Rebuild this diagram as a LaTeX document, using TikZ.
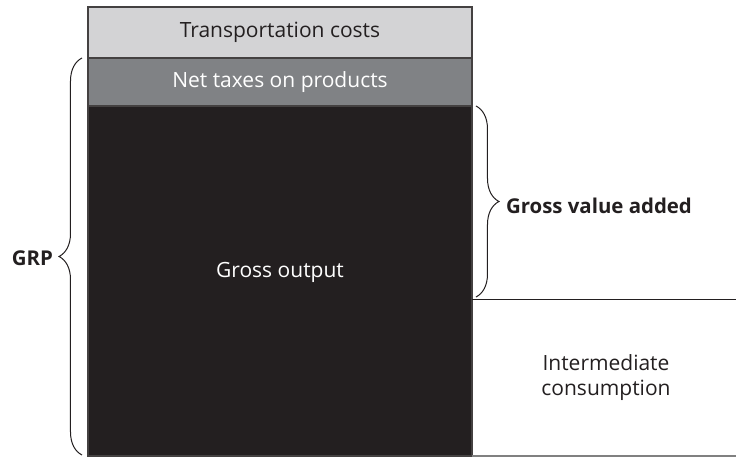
\documentclass[tikz,border=0pt]{standalone}
\usepackage{fontspec}
\setmainfont{Open Sans}
\usetikzlibrary{positioning,decorations.pathreplacing}
\definecolor{lightbar}{HTML}{D3D3D5}
\definecolor{midbar}{HTML}{808285}
\definecolor{darkbar}{HTML}{231F20}
\tikzset{
  bar/.style={draw=darkbar!85, line width=0.6pt, minimum width=192pt, inner sep=0pt, outer sep=0pt, anchor=north},
  bracket/.style={decorate, decoration={brace, amplitude=11.5pt}, line width=0.5pt, darkbar},
  sidelabel/.style={font=\fontsize{10.2}{12.5}\selectfont\bfseries, text=darkbar}
}
\begin{document}
\begin{tikzpicture}[x=0.5pt, y=-0.5pt, font=\fontsize{10.5}{12.5}\selectfont]
  \useasboundingbox (0,0) rectangle (736,460);

  % stacked bars
  \node[bar, fill=lightbar, text=darkbar, minimum height=25.5pt] (trans) at (280,7) {Transportation costs};
  \node[bar, fill=midbar, text=white, minimum height=24pt, below=0pt of trans] (taxes) {Net taxes on products};
  \node[bar, fill=darkbar, minimum height=175pt, below=0pt of taxes] (output) {};
  \node[text=white] (outlabel) at (280,272) {Gross output};

  % right hand side
  \coordinate (cut) at (736,300);
  \coordinate (floor) at (736,457);
  \draw[line width=0.5pt, darkbar] (output.east |- cut) -- (cut);
  \draw[line width=0.6pt, gray] (output.south east) -- (output.south east -| floor);
  \node[align=center, text=darkbar] (inter) at (606,378) {Intermediate\\consumption};

  % braces
  \coordinate (gvatop) at (476,106);
  \coordinate (gvabot) at (476,297);
  \draw[bracket] (gvatop) -- (gvabot);
  \node[sidelabel, anchor=west] (gva) at (499,206) {Gross value added};

  \coordinate (grptop) at (82,58);
  \coordinate (grpbot) at (82,455);
  \draw[bracket] (grpbot) -- (grptop);
  \node[sidelabel, anchor=east] (grp) at (60,258) {GRP};
\end{tikzpicture}
\end{document}
